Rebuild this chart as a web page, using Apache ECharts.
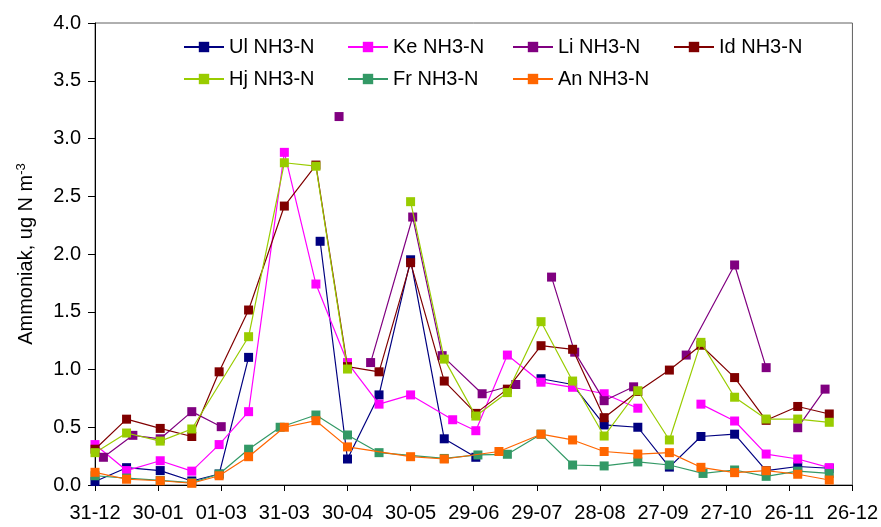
<!DOCTYPE html>
<html>
<head>
<meta charset="utf-8">
<script src="https://cdn.jsdelivr.net/npm/echarts@6/dist/echarts.min.js"></script>
<style>
html,body{margin:0;padding:0;background:#fff;}
#chart{width:881px;height:527px;}
</style>
</head>
<body>
<div id="chart"></div>
<script>
// Tick labels (every 30 days from 31-12)
const tickLabels = ['31-12','30-01','01-03','31-03','30-04','30-05','29-06','29-07','28-08','27-09','27-10','26-11','26-12'];

const seriesNames = ['Ul NH3-N','Ke NH3-N','Li NH3-N','Id NH3-N','Hj NH3-N','Fr NH3-N','An NH3-N'];

// Day offsets (days after 31-12) and values; null = missing sample (line break)
const ulDays = [0,15,31,46,59,73,90,107,120,135,150,166,181,196,212,227,242,258,273,288,304,319,334,349];
const ulVals = [0.03,0.15,0.125,0.035,0.095,1.105,null,2.11,0.225,0.78,1.95,0.40,0.24,null,0.92,0.87,0.52,0.50,0.155,0.42,0.44,0.125,0.16,0.145];

const keDays = [0,15,31,46,59,73,90,105,120,135,150,170,181,196,212,227,242,258,273,288,304,319,334,349];
const keVals = [0.35,0.125,0.21,0.12,0.35,0.635,2.88,1.74,1.06,0.70,0.78,0.565,0.47,1.125,0.89,0.846,0.79,0.665,null,0.70,0.554,0.268,0.225,0.15];

const liDays = [4,18,31,46,60,88,116,123,131,151,165,184,200,208,217,228,242,256,268,281,304,319,326,334,347];
const liVals = [0.24,0.43,0.40,0.635,0.505,null,3.19,null,1.06,2.32,1.12,0.79,0.87,null,1.80,1.15,0.73,0.85,null,1.125,1.905,1.016,null,0.496,0.83];

const idDays = [0,15,31,46,59,73,90,105,120,135,150,166,181,196,212,227,242,258,273,288,304,319,334,349];
const idVals = [0.31,0.57,0.49,0.42,0.98,1.515,2.415,2.77,1.025,0.98,1.925,0.90,0.62,0.83,1.206,1.175,0.583,0.81,0.995,1.21,0.93,0.56,0.68,0.615];

const hjDays = [0,15,31,46,73,90,105,120,135,150,166,181,196,212,227,242,258,273,288,304,319,334,349];
const hjVals = [0.28,0.45,0.38,0.485,1.284,2.79,2.76,1.004,null,2.453,1.09,0.597,0.80,1.414,0.90,0.424,0.816,0.39,1.235,0.76,0.571,0.571,0.543];

const frDays = [0,15,31,46,59,73,88,105,120,135,166,182,196,212,227,242,258,273,289,304,319,334,349];
const frVals = [0.08,0.06,0.04,0.02,0.095,0.31,0.50,0.606,0.433,0.28,0.23,0.26,0.266,0.44,0.173,0.165,0.20,0.173,0.10,0.13,0.075,0.12,0.10];

const anDays = [0,15,31,46,59,73,90,105,120,150,166,192,212,227,242,258,273,288,304,319,334,349];
const anVals = [0.11,0.05,0.037,0.015,0.08,0.245,0.50,0.557,0.33,0.245,0.225,0.29,0.44,0.39,0.29,0.268,0.28,0.153,0.107,0.124,0.093,0.043];

const colors = ['#000080','#FF00FF','#800080','#800000','#99CC00','#339966','#FF6600'];
const allDays = [ulDays,keDays,liDays,idDays,hjDays,frDays,anDays];
const allVals = [ulVals,keVals,liVals,idVals,hjVals,frVals,anVals];

const FONT = '"Liberation Sans", Arial, sans-serif';

const series = seriesNames.map((name, i) => ({
  name: name,
  type: 'line',
  data: allDays[i].map((d, j) => [d, allVals[i][j]]),
  symbol: 'rect',
  symbolSize: 9,
  showAllSymbol: true,
  connectNulls: false,
  lineStyle: { color: colors[i], width: 1.2 },
  itemStyle: { color: colors[i] },
  emphasis: { disabled: true },
  z: 2 + i
}));

const legendCols = [183, 347, 512, 673];
const legendRows = [37, 69];
const legends = seriesNames.map((name, i) => ({
  data: [name],
  left: legendCols[i % 4],
  top: legendRows[Math.floor(i / 4)],
  itemWidth: 40,
  itemHeight: 13,
  itemGap: 0,
  selectedMode: false,
  padding: 0,
  textStyle: { fontSize: 20, fontFamily: FONT, color: '#000' }
}));

const chart = echarts.init(document.getElementById('chart'), null, { renderer: 'canvas' });
chart.setOption({
  animation: false,
  backgroundColor: '#fff',
  color: colors,
  grid: { left: 95, right: 28, top: 23, bottom: 42, show: true, borderColor: '#606060', borderWidth: 1, backgroundColor: 'transparent' },
  legend: legends,
  xAxis: {
    type: 'value',
    min: 0, max: 360, interval: 30,
    axisLine: { show: true, lineStyle: { color: '#000', width: 1 } },
    axisTick: { show: true, length: 6, lineStyle: { color: '#000' } },
    splitLine: { show: false },
    axisLabel: {
      fontSize: 20, fontFamily: FONT, color: '#000', margin: 18,
      formatter: v => tickLabels[Math.round(v / 30)]
    }
  },
  yAxis: {
    type: 'value',
    min: 0, max: 4, interval: 0.5,
    name: '{a|Ammoniak, ug N m}{s|-3}',
    nameLocation: 'middle',
    nameGap: 57,
    nameTextStyle: {
      fontFamily: FONT, color: '#000',
      rich: {
        a: { fontSize: 20, fontFamily: FONT, color: '#000' },
        s: { fontSize: 13, fontFamily: FONT, color: '#000', verticalAlign: 'top', padding: [0, 0, 10, 0] }
      }
    },
    axisLine: { show: true, lineStyle: { color: '#000', width: 1 } },
    axisTick: { show: true, length: 7, lineStyle: { color: '#000' } },
    splitLine: { show: false },
    axisLabel: {
      fontSize: 20, fontFamily: FONT, color: '#000', margin: 14,
      formatter: v => v.toFixed(1)
    }
  },
  series: series
});
</script>
</body>
</html>
